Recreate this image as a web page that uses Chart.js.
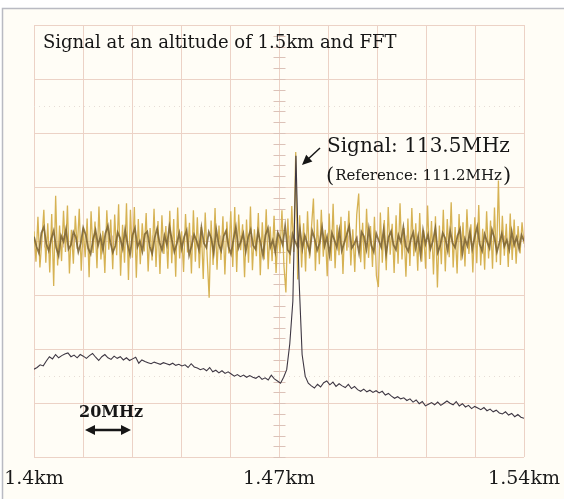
<!DOCTYPE html>
<html>
<head>
<meta charset="utf-8">
<script src="https://cdn.jsdelivr.net/npm/chart.js@4"></script>
<style>
  html, body { margin: 0; padding: 0; background: #ffffff; }
  #wrap { width: 564px; height: 499px; }
</style>
</head>
<body>
<div id="wrap"><canvas id="chart" width="564" height="499"></canvas></div>
<script>
// x axis: altitude in km, grid every 1/10 of the span
const xGridKm = [1.4, 1.414, 1.428, 1.442, 1.456, 1.47, 1.484, 1.498, 1.512, 1.526, 1.54];
const xTickLabels = ['1.4km', '', '', '', '', '1.47km', '', '', '', '', '1.54km'];

// raw signal (scope trace, in divisions, centre = 4)
const signalSpikes = [
  4.18, 3.62, 4.45, 3.51, 4.02, 4.58, 3.6, 4.33, 3.42, 4.5,
  3.17, 4.84, 3.55, 4.29, 3.63, 4.56, 3.8, 4.66, 3.4, 4.21,
  3.58, 4.47, 3.86, 4.6, 3.45, 4.25, 3.7, 4.42, 3.33, 4.55,
  3.78, 4.36, 3.5, 4.64, 3.66, 4.19, 3.41, 4.57, 3.84, 4.4,
  3.48, 4.49, 3.74, 4.68, 3.36, 4.3, 3.6, 4.7, 3.28, 4.58,
  3.69, 4.63, 3.32, 4.41, 3.57, 4.33, 3.81, 4.52, 3.44, 4.24,
  3.64, 4.6, 3.52, 4.37, 3.39, 4.48, 3.76, 4.28, 3.49, 4.56,
  3.59, 4.41, 3.34, 4.62, 3.68, 4.18, 3.43, 4.5, 3.79, 4.34,
  3.4, 4.57, 3.62, 4.44, 3.5, 4.26, 3.3, 4.53, 3.71, 2.95,
  4.38, 3.56, 4.61, 3.47, 4.29, 3.65, 4.46, 3.38, 4.36, 3.77,
  4.55, 3.52, 4.63, 3.43, 4.49, 3.83, 4.31, 3.33, 4.4, 3.6,
  4.64, 3.46, 4.22, 3.72, 4.52, 3.37, 4.35, 3.66, 4.59, 3.48,
  4.27, 3.63, 4.47, 3.41, 4.15, 3.77, 4.57, 3.55, 3.05, 4.42,
  3.58, 4.65, 3.8, 5.65, 3.29, 4.48, 3.51, 4.33, 3.44, 4.55,
  3.68, 4.25, 4.79, 3.45, 4.4, 3.57, 4.58, 3.71, 4.21, 3.35,
  4.51, 3.63, 4.69, 3.5, 4.3, 3.74, 4.45, 3.39, 4.37, 3.82,
  4.56, 3.55, 4.22, 3.43, 4.49, 4.88, 3.61, 4.34, 3.48, 4.6,
  3.69, 4.28, 3.52, 4.45, 3.36, 3.15, 4.53, 3.6, 4.39, 3.46,
  4.63, 3.75, 4.32, 3.41, 4.48, 3.58, 4.7, 3.66, 4.24, 3.34,
  4.42, 3.54, 4.61, 3.72, 4.33, 3.45, 4.52, 3.62, 4.2, 3.49,
  4.66, 3.67, 4.37, 3.38, 4.46, 3.14, 4.29, 3.57, 4.58, 3.44,
  4.41, 3.7, 4.72, 3.51, 4.26, 3.4, 4.5, 3.64, 4.35, 3.53,
  4.59, 3.76, 4.31, 3.42, 4.44, 3.59, 4.67, 3.55, 4.23, 3.47,
  4.55, 3.68, 4.38, 3.49, 4.62, 3.61, 5.12, 3.56, 4.47, 3.73,
  4.32, 3.52, 4.51, 3.65, 4.4, 3.58, 4.28, 3.77, 4.35, 3.95
];

// darker core of the same trace
const signalCore = [
  4.08, 3.9, 3.78, 4.15, 4.26, 3.95, 3.82, 4.04, 4.19, 3.88,
  3.73, 4.1, 3.99, 4.22, 3.85, 3.93, 4.17, 4.07, 3.8, 3.96,
  4.25, 4.12, 3.87, 3.76, 4.03, 4.2, 3.92, 4.09, 3.84, 4.14,
  4.28, 3.98, 3.79, 3.91, 4.16, 4.05, 3.86, 4.21, 3.94, 3.75,
  4.11, 4.24, 3.89, 4.0, 3.81, 4.13, 4.18, 3.9, 3.77, 4.06,
  4.23, 3.97, 3.83, 4.1, 3.93, 4.27, 4.02, 3.8, 3.95, 4.15,
  3.86, 4.08, 4.2, 3.74, 3.91, 4.12, 4.01, 3.84, 4.25, 3.96,
  3.88, 4.17, 4.05, 3.78, 4.22, 3.94, 3.82, 4.09, 4.19, 3.9,
  3.76, 4.03, 4.26, 3.87, 3.99, 4.14, 3.81, 4.07, 4.21, 3.92,
  3.85, 4.18, 3.97, 3.73, 4.11, 4.24, 3.89, 4.02, 3.8, 4.16,
  4.06, 3.93, 4.28, 3.84, 3.77, 4.13, 4.0, 3.9, 4.22, 3.86,
  4.1, 3.95, 3.79, 4.19, 4.04, 3.83, 3.96, 4.25, 3.91, 4.08,
  3.75, 4.15, 4.02, 3.88, 4.2, 3.82, 3.97, 4.12, 4.27, 3.87,
  3.94, 4.05, 3.78, 4.17, 4.09, 3.85, 4.23, 3.92, 3.8, 4.14,
  4.01, 3.89, 4.21, 3.76, 4.07, 4.18, 3.93, 3.84, 4.11, 3.98,
  4.26, 3.9, 3.81, 4.03, 4.16, 3.87, 4.09, 3.74, 4.2, 3.95,
  4.12, 3.86, 4.0, 4.24, 3.79, 3.92, 4.15, 4.05, 3.83, 4.19,
  3.96, 3.88, 4.1, 4.22, 3.77, 4.04, 3.91, 4.17, 3.85, 4.08,
  4.27, 3.94, 3.82, 4.13, 3.99, 3.87, 4.21, 4.06, 3.8, 3.97,
  4.14, 3.9, 4.02, 3.84, 4.18, 3.93, 4.07, 3.86, 4.11, 4.0
];

// FFT trace (divisions from the bottom)
const fftTrace = [
  1.63, 1.66, 1.71, 1.69, 1.78, 1.86, 1.82, 1.9, 1.84, 1.88,
  1.91, 1.93, 1.86, 1.89, 1.84, 1.9, 1.87, 1.83, 1.88, 1.92,
  1.85, 1.79, 1.86, 1.9, 1.84, 1.81, 1.87, 1.83, 1.86, 1.8,
  1.84, 1.79, 1.82, 1.85, 1.74, 1.8, 1.77, 1.75, 1.73, 1.76,
  1.74, 1.72, 1.75, 1.73, 1.71, 1.74, 1.7, 1.72, 1.69, 1.71,
  1.66, 1.73, 1.67, 1.65, 1.62, 1.64, 1.6, 1.66, 1.58, 1.61,
  1.56, 1.6, 1.55, 1.58, 1.54, 1.5, 1.53, 1.49, 1.52, 1.48,
  1.51, 1.48, 1.46, 1.5, 1.44, 1.47, 1.43, 1.52, 1.45, 1.41,
  1.37, 1.48, 1.62, 2.1, 2.89, 5.58, 3.3, 1.9, 1.5, 1.37,
  1.32, 1.28, 1.35, 1.3, 1.38, 1.41, 1.34, 1.39, 1.31, 1.36,
  1.32, 1.29, 1.35, 1.27, 1.31, 1.25, 1.22, 1.26, 1.21, 1.24,
  1.2, 1.23, 1.19, 1.22, 1.15, 1.18, 1.13, 1.09, 1.12, 1.08,
  1.1, 1.05, 1.08, 1.02, 1.06, 0.99, 1.03, 0.95, 0.98, 1.01,
  0.97, 1.02, 0.96, 1.0, 1.04, 1.0, 0.97, 1.03, 0.95, 0.99,
  0.93, 0.96, 0.9, 0.94, 0.91, 0.88, 0.92, 0.86, 0.89, 0.84,
  0.87, 0.82, 0.8, 0.84, 0.78, 0.81, 0.75, 0.79, 0.74, 0.72
];

const xMin = xGridKm[0], xMax = xGridKm[xGridKm.length - 1];

// samples are evenly spread over the sweep
function toPoints(arr) {
  return arr.map((v, i) => ({ x: xMin + i * (xMax - xMin) / (arr.length - 1), y: v }));
}

const serif = "'DejaVu Serif', 'Liberation Serif', serif";
const gridColor = '#ecd2c6';

// paper, frame, graticule extras
const scopeBackground = {
  id: 'scopeBackground',
  beforeDraw(chart) {
    const ctx = chart.ctx;
    const w = chart.width, h = chart.height;
    ctx.save();
    ctx.fillStyle = '#fffdf6';
    ctx.fillRect(3, 9, w - 3, h - 9);
    ctx.strokeStyle = '#b9bac2';
    ctx.lineWidth = 1.5;
    ctx.beginPath();
    ctx.moveTo(2.5, h);
    ctx.lineTo(2.5, 8.5);
    ctx.lineTo(w, 8.5);
    ctx.stroke();
    ctx.restore();
  },
  beforeDatasetsDraw(chart) {
    const ctx = chart.ctx;
    const xs = chart.scales.x, ys = chart.scales.y;
    const a = chart.chartArea;
    ctx.save();
    // faint dotted lines
    ctx.strokeStyle = '#e6ddd6';
    ctx.lineWidth = 1;
    ctx.setLineDash([1, 4]);
    [6.5, 1.5].forEach(v => {
      const y = Math.round(ys.getPixelForValue(v)) + 0.5;
      ctx.beginPath();
      ctx.moveTo(a.left, y);
      ctx.lineTo(a.right, y);
      ctx.stroke();
    });
    ctx.setLineDash([]);
    // minor ticks on the centre cross
    ctx.strokeStyle = '#dcc2b8';
    const cx = Math.round(xs.getPixelForValue(1.47)) + 0.5;
    const cy = Math.round(ys.getPixelForValue(4)) + 0.5;
    for (let v = 0; v <= 8; v += 0.2) {
      const y = Math.round(ys.getPixelForValue(v)) + 0.5;
      ctx.beginPath();
      ctx.moveTo(cx - 6, y);
      ctx.lineTo(cx + 6, y);
      ctx.stroke();
    }
    for (let k = 0; k <= 50; k++) {
      const x = Math.round(xs.getPixelForValue(xMin + k * (xMax - xMin) / 50)) + 0.5;
      ctx.beginPath();
      ctx.moveTo(x, cy - 6);
      ctx.lineTo(x, cy + 6);
      ctx.stroke();
    }
    ctx.restore();
  }
};

function arrowHead(ctx, x1, y1, x2, y2, len, wid) {
  const ang = Math.atan2(y2 - y1, x2 - x1);
  ctx.beginPath();
  ctx.moveTo(x2, y2);
  ctx.lineTo(x2 - len * Math.cos(ang) + wid * Math.sin(ang), y2 - len * Math.sin(ang) - wid * Math.cos(ang));
  ctx.lineTo(x2 - len * Math.cos(ang) - wid * Math.sin(ang), y2 - len * Math.sin(ang) + wid * Math.cos(ang));
  ctx.closePath();
  ctx.fill();
}

// labels drawn on the screen
const scopeNotes = {
  id: 'scopeNotes',
  afterDatasetsDraw(chart) {
    const ctx = chart.ctx;
    ctx.save();
    ctx.fillStyle = '#161616';
    ctx.strokeStyle = '#161616';
    ctx.textBaseline = 'alphabetic';
    ctx.textAlign = 'left';

    ctx.font = '18px ' + serif;
    ctx.fillText('Signal at an altitude of 1.5km and FFT', 43, 48);

    ctx.font = '20px ' + serif;
    ctx.fillText('Signal: 113.5MHz', 327, 152);

    ctx.font = '21px ' + serif;
    ctx.fillText('(', 326, 182);
    let w = ctx.measureText('(').width;
    ctx.font = '15px ' + serif;
    ctx.fillText('Reference: 111.2MHz', 326 + w + 1, 180);
    const w2 = ctx.measureText('Reference: 111.2MHz').width;
    ctx.font = '21px ' + serif;
    ctx.fillText(')', 326 + w + 2 + w2, 182);

    // pointer to the peak
    ctx.lineWidth = 1.5;
    ctx.beginPath();
    ctx.moveTo(320, 148);
    ctx.lineTo(306, 161);
    ctx.stroke();
    arrowHead(ctx, 320, 148, 302, 165, 10, 4.5);

    ctx.font = 'bold 16px ' + serif;
    ctx.fillText('20MHz', 79, 417);

    ctx.lineWidth = 2.5;
    ctx.beginPath();
    ctx.moveTo(92, 430);
    ctx.lineTo(124, 430);
    ctx.stroke();
    arrowHead(ctx, 108, 430, 85, 430, 10, 5);
    arrowHead(ctx, 108, 430, 131, 430, 10, 5);
    ctx.restore();
  }
};

new Chart(document.getElementById('chart'), {
  type: 'line',
  data: {
    datasets: [
      {
        label: 'FFT',
        data: toPoints(fftTrace),
        borderColor: '#3e3743',
        borderWidth: 1.1,
        pointRadius: 0,
        tension: 0
      },
      {
        label: 'Signal core',
        data: toPoints(signalCore),
        borderColor: 'rgba(122, 97, 48, 0.85)',
        borderWidth: 1.8,
        pointRadius: 0,
        tension: 0
      },
      {
        label: 'Signal',
        data: toPoints(signalSpikes),
        borderColor: '#d6b253',
        borderWidth: 1.3,
        pointRadius: 0,
        tension: 0
      }
    ]
  },
  options: {
    responsive: false,
    animation: false,
    events: [],
    layout: { padding: { left: 34, top: 25, right: 40, bottom: -1 } },
    plugins: {
      legend: { display: false },
      tooltip: { enabled: false }
    },
    scales: {
      x: {
        type: 'linear',
        min: xMin,
        max: xMax,
        afterBuildTicks: scale => {
          scale.ticks = xGridKm.map(v => ({ value: v }));
        },
        // let the end labels hang over the frame instead of shrinking the plot
        afterFit: scale => {
          scale.paddingLeft = 0;
          scale.paddingRight = 0;
        },
        grid: { color: gridColor, lineWidth: 1, drawTicks: false },
        border: { display: false },
        ticks: {
          autoSkip: false,
          maxRotation: 0,
          padding: 10,
          color: '#1a1a1a',
          font: { family: serif, size: 19 },
          callback: (v, i) => xTickLabels[i]
        }
      },
      y: {
        min: 0,
        max: 8,
        ticks: { stepSize: 1, display: false },
        grid: { color: gridColor, lineWidth: 1, drawTicks: false },
        border: { display: false }
      }
    }
  },
  plugins: [scopeBackground, scopeNotes]
});
</script>
</body>
</html>
